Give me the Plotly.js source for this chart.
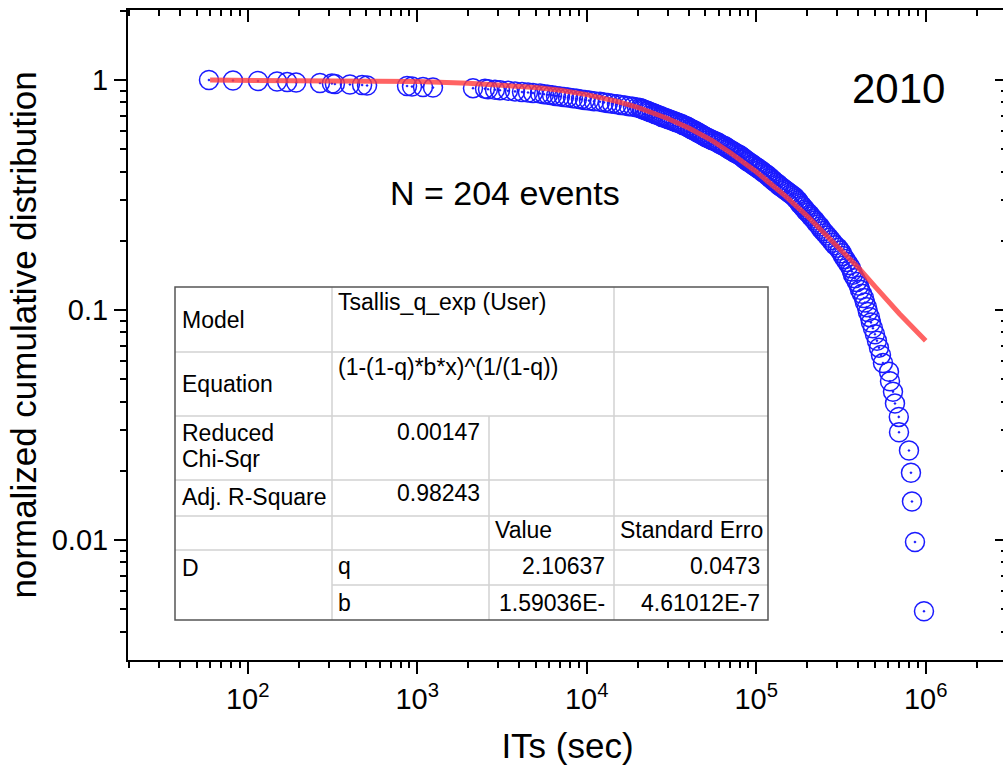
<!DOCTYPE html>
<html><head><meta charset="utf-8">
<script src="https://cdn.plot.ly/plotly-3.0.1.min.js"></script>
<style>html,body{margin:0;padding:0;overflow:hidden;background:#fff}#chart{width:1010px;height:767px}</style>
</head><body><div id="chart"></div>
<script>
// Inter-event times (seconds), sorted ascending
const itSec = [59.1, 81.9, 115, 149, 171, 193, 267, 314, 327, 401, 473, 506, 871, 932, 1082, 1239,
2134, 2512, 2617, 2877, 3080, 3434, 3776,
4153, 4505, 4823, 5303, 5600, 5909, 6243, 6591, 6960, 7347, 7756, 8302, 8766, 9256, 9772, 10318, 11043, 11982,
12650, 13356, 14103, 15095, 15937, 16827, 17765, 18758, 19808, 20634,
21200, 21490, 22080, 22690, 23000, 23630, 24280, 24950, 25290, 25980, 26700, 27440, 27810, 28580, 29370, 30170, 31000, 31860, 32730, 33640, 34560, 35510, 36490, 36990, 38010, 39050,
39584, 40680, 41237, 42380, 42960, 44140, 44744, 45970, 46600, 47880, 48535, 49870, 50552,
51950, 53380, 54850, 56360, 57910, 59510, 60320, 61980, 63700, 65450, 66340,
68170, 69100, 71010, 72960, 73960, 76000, 78090, 80240, 81340, 83580, 84720, 85890,
88250, 89460, 91930, 94460, 95740, 98380, 101080, 102470, 105290, 108190, 109670, 112690,
115790, 117380, 120610, 122260, 125630, 127350, 130850, 134450, 136290, 140050,
143900, 147870, 151940, 156130, 160430, 164840, 169380,
171700, 176420, 178830, 181270, 186260, 188810, 194010, 196660,
202080, 207650, 210490, 216290, 222280, 225320, 231530, 237910, 241160, 247810,
254640, 261650, 268860, 276270, 283870, 291680, 303810, 312170,
320760, 325150, 334100, 343290, 352740, 362450,
367400, 372430, 382680, 393200,
404030, 409560, 420830, 432420, 438330, 450410,
456570, 469140, 475560, 488650,
502090, 515900, 530110, 544700, 559700,
607500, 615800, 641400, 658990, 694000, 696000, 797000, 818900, 830100, 864800, 977200];

// Normalized cumulative distribution values
const cumDist = [1.0000, 0.9951, 0.9902, 0.9853, 0.9804, 0.9755, 0.9706, 0.9657, 0.9608, 0.9559,
0.9510, 0.9461, 0.9412, 0.9363, 0.9314, 0.9265, 0.9216, 0.9167, 0.9118, 0.9069,
0.9020, 0.8971, 0.8922, 0.8873, 0.8824, 0.8775, 0.8725, 0.8676, 0.8627, 0.8578,
0.8529, 0.8480, 0.8431, 0.8382, 0.8333, 0.8284, 0.8235, 0.8186, 0.8137, 0.8088,
0.8039, 0.7990, 0.7941, 0.7892, 0.7843, 0.7794, 0.7745, 0.7696, 0.7647, 0.7598,
0.7549, 0.7500, 0.7451, 0.7402, 0.7353, 0.7304, 0.7255, 0.7206, 0.7157, 0.7108,
0.7059, 0.7010, 0.6961, 0.6912, 0.6863, 0.6814, 0.6765, 0.6716, 0.6667, 0.6618,
0.6569, 0.6520, 0.6471, 0.6422, 0.6373, 0.6324, 0.6275, 0.6225, 0.6176, 0.6127,
0.6078, 0.6029, 0.5980, 0.5931, 0.5882, 0.5833, 0.5784, 0.5735, 0.5686, 0.5637,
0.5588, 0.5539, 0.5490, 0.5441, 0.5392, 0.5343, 0.5294, 0.5245, 0.5196, 0.5147,
0.5098, 0.5049, 0.5000, 0.4951, 0.4902, 0.4853, 0.4804, 0.4755, 0.4706, 0.4657,
0.4608, 0.4559, 0.4510, 0.4461, 0.4412, 0.4363, 0.4314, 0.4265, 0.4216, 0.4167,
0.4118, 0.4069, 0.4020, 0.3971, 0.3922, 0.3873, 0.3824, 0.3775, 0.3725, 0.3676,
0.3627, 0.3578, 0.3529, 0.3480, 0.3431, 0.3382, 0.3333, 0.3284, 0.3235, 0.3186,
0.3137, 0.3088, 0.3039, 0.2990, 0.2941, 0.2892, 0.2843, 0.2794, 0.2745, 0.2696,
0.2647, 0.2598, 0.2549, 0.2500, 0.2451, 0.2402, 0.2353, 0.2304, 0.2255, 0.2206,
0.2157, 0.2108, 0.2059, 0.2010, 0.1961, 0.1912, 0.1863, 0.1814, 0.1765, 0.1716,
0.1667, 0.1618, 0.1569, 0.1520, 0.1471, 0.1422, 0.1373, 0.1324, 0.1275, 0.1225,
0.1176, 0.1127, 0.1078, 0.1029, 0.0980, 0.0931, 0.0882, 0.0833, 0.0784, 0.0735,
0.0686, 0.0637, 0.0588, 0.0539, 0.0490, 0.0441, 0.0392, 0.0343, 0.0294, 0.0245,
0.0196, 0.0147, 0.0098, 0.0049];

// Fitted Tsallis q-exponential curve
const fitX = [60, 200, 500, 1000, 2000, 3000, 5000, 7000, 10000, 15000, 20000, 30000, 40000, 55000, 70000, 100000, 150000, 200000, 300000, 400000, 500000, 700000, 1000000];
const fitY = [0.999, 0.997, 0.992, 0.984, 0.969, 0.955, 0.928, 0.903, 0.864, 0.808, 0.760, 0.680, 0.618, 0.545, 0.484, 0.399, 0.311, 0.256, 0.190, 0.153, 0.127, 0.0963, 0.0735];

// Tick labels
const xTickVals = [1e2, 1e3, 1e4, 1e5, 1e6];
const xTickText = ['10<sup>2</sup>', '10<sup>3</sup>', '10<sup>4</sup>', '10<sup>5</sup>', '10<sup>6</sup>'];
const yTickVals = [0.01, 0.1, 1];
const yTickText = ['0.01', '0.1', '1'];

// Text labels
const xTitle = 'ITs (sec)';
const yTitle = 'normalized cumulative distribution';
const countLabel = 'N = 204 events';
const yearLabel = '2010';

// Fit report table contents
const tblModel = ['Model', 'Tsallis_q_exp (User)'];
const tblEquation = ['Equation', '(1-(1-q)*b*x)^(1/(1-q))'];
const tblChi = ['Reduced', 'Chi-Sqr', '0.00147'];
const tblR2 = ['Adj. R-Square', '0.98243'];
const tblHeader = ['Value', 'Standard Erro'];
const tblParamGroup = 'D';
const tblParams = ['q', 'b'];
const tblValues = ['2.10637', '1.59036E-'];
const tblErrors = ['0.0473', '4.61012E-7'];

const FONT = 'Liberation Sans, Arial, sans-serif';
const XR = [1.2938, 6.4798], YR = [-2.5217, 0.3043];

function minorTicks(d0, d1, lo, hi) {
  const out = [];
  for (let d = d0; d <= d1; d++) for (let m = 2; m <= 9; m++) {
    const v = m * Math.pow(10, d);
    if (v >= lo && v <= hi) out.push(v);
  }
  return out;
}
const xMinor = minorTicks(1, 6, Math.pow(10, XR[0]), Math.pow(10, XR[1]));
const yMinor = minorTicks(-3, 0, Math.pow(10, YR[0]), Math.pow(10, YR[1]));

// plot area pixel geometry for overlay table
const PL = 128, PR = 1007, PT = 10, PB = 660;
const fx = p => (p - PL) / (PR - PL);
const fy = p => (PB - p) / (PB - PT);

const shapes = [];
const annotations = [];
function hline(y, x0, x1) { shapes.push({type:'line', xref:'paper', yref:'paper', x0:fx(x0), x1:fx(x1), y0:fy(y), y1:fy(y), line:{color:'#d2d2d2', width:1.5}}); }
function vline(x, y0, y1) { shapes.push({type:'line', xref:'paper', yref:'paper', x0:fx(x), x1:fx(x), y0:fy(y0), y1:fy(y1), line:{color:'#d2d2d2', width:1.5}}); }
function txt(t, x, y, anchor, size) { annotations.push({text:t, xref:'paper', yref:'paper', x:fx(x), y:fy(y), xanchor:anchor, yanchor:'middle', showarrow:false, font:{family:FONT, size:size||23, color:'#000'}}); }

// table box
const TL = 175, TR = 768, TT = 287, TB = 620;
const C1 = 332, C2 = 489, C3 = 614;
shapes.push({type:'rect', xref:'paper', yref:'paper', x0:fx(TL), x1:fx(TR), y0:fy(TT), y1:fy(TB), fillcolor:'#fff', line:{width:0}, layer:'above'});
[352, 416, 480, 516, 550].forEach(y => hline(y, TL, TR));
hline(585, C1, TR);
vline(C1, TT, TB);
vline(C2, 416, TB);
vline(C3, TT, TB);
shapes.push({type:'rect', xref:'paper', yref:'paper', x0:fx(TL), x1:fx(TR), y0:fy(TT), y1:fy(TB), line:{color:'#555', width:1.5}});

txt(tblModel[0], 180, 320, 'left');
txt(tblModel[1], 336, 302, 'left');
txt(tblEquation[0], 180, 384, 'left');
txt(tblEquation[1], 336, 367, 'left');
txt(tblChi[0], 180, 433, 'left');
txt(tblChi[1], 180, 459, 'left');
txt(tblChi[2], 482, 432, 'right');
txt(tblR2[0], 180, 497, 'left');
txt(tblR2[1], 482, 493, 'right');
txt(tblHeader[0], 493, 530, 'left');
txt(tblHeader[1], 618, 530, 'left');
txt(tblParamGroup, 180, 568, 'left');
txt(tblParams[0], 336, 566, 'left');
txt(tblParams[1], 336, 603, 'left');
txt(tblValues[0], 607, 566, 'right');
txt(tblValues[1], 607, 603, 'right');
txt(tblErrors[0], 762, 566, 'right');
txt(tblErrors[1], 762, 603, 'right');

txt(countLabel, 505, 193, 'center', 34);
txt(yearLabel, 898, 89, 'center', 42);

const traces = [
  {x: itSec, y: cumDist, type:'scatter', mode:'markers', showlegend:false, hoverinfo:'skip',
   marker:{symbol:'circle-open-dot', size:19, color:'#1a1aff', line:{color:'#1a1aff', width:1.5}}},
  {x: fitX, y: fitY, type:'scatter', mode:'lines', showlegend:false, hoverinfo:'skip',
   line:{color:'rgba(255,60,60,0.8)', width:5}},
  {x:[1000], y:[1], xaxis:'x2', yaxis:'y2', type:'scatter', mode:'markers', marker:{opacity:0}, showlegend:false, hoverinfo:'skip'}
];

const axBase = {type:'log', showgrid:false, zeroline:false, showline:true, linecolor:'#000', linewidth:2,
  tickcolor:'#000', tickwidth:2, ticklen:12, tickfont:{family:FONT, size:29, color:'#000'}};

const layout = {
  width:1010, height:767,
  margin:{l:PL, r:1010-PR, t:PT, b:767-PB},
  paper_bgcolor:'#fff', plot_bgcolor:'#fff',
  font:{family:FONT, color:'#000'},
  showlegend:false,
  xaxis: Object.assign({}, axBase, {range:XR, ticks:'outside', tickmode:'array', tickvals:xTickVals, ticktext:xTickText,
    minor:{tickmode:'array', tickvals:xMinor, ticks:'outside', ticklen:6, tickwidth:2, tickcolor:'#000', showgrid:false},
    title:{text:xTitle, font:{family:FONT, size:35, color:'#000'}, standoff:20}}),
  yaxis: Object.assign({}, axBase, {range:YR, ticks:'outside', tickmode:'array', tickvals:yTickVals, ticktext:yTickText,
    minor:{tickmode:'array', tickvals:yMinor, ticks:'outside', ticklen:6, tickwidth:2, tickcolor:'#000', showgrid:false},
    title:{text:yTitle, font:{family:FONT, size:35, color:'#000'}, standoff:4}}),
  xaxis2: Object.assign({}, axBase, {range:XR, overlaying:'x', side:'top', anchor:'y2', ticks:'inside', showticklabels:false,
    tickmode:'array', tickvals:xTickVals,
    minor:{tickmode:'array', tickvals:xMinor, ticks:'inside', ticklen:6, tickwidth:2, tickcolor:'#000', showgrid:false}}),
  yaxis2: Object.assign({}, axBase, {range:YR, overlaying:'y', side:'right', anchor:'x2', ticks:'inside', showticklabels:false,
    tickmode:'array', tickvals:yTickVals,
    minor:{tickmode:'array', tickvals:yMinor, ticks:'inside', ticklen:6, tickwidth:2, tickcolor:'#000', showgrid:false}}),
  shapes: shapes,
  annotations: annotations
};

Plotly.newPlot('chart', traces, layout, {displayModeBar:false, staticPlot:true});
</script></body></html>
